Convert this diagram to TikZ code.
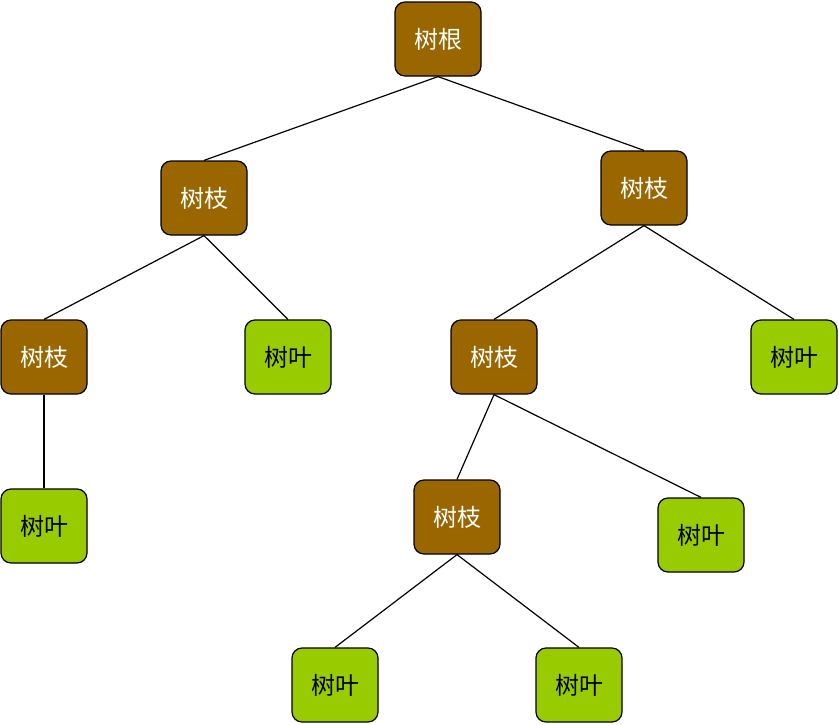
\documentclass[tikz,border=0pt]{standalone}
\usepackage{fontspec}
\newfontfamily\cjk{Noto Sans CJK SC}
\definecolor{branchbrown}{HTML}{996600}
\definecolor{leafgreen}{HTML}{99CC00}
\tikzset{
    treebox/.style={draw=black, line width=1.2pt, rounded corners=10pt,
        minimum width=86pt, minimum height=74pt, inner sep=0pt,
        font=\cjk\fontsize{24}{24}\selectfont},
    branch/.style={treebox, fill=branchbrown, text=white},
    leaf/.style={treebox, fill=leafgreen, text=black},
    edge/.style={line width=1.2pt}
}
\begin{document}
\begin{tikzpicture}[x=1pt,y=-1pt]
        \useasboundingbox (0,0) rectangle (839,724);
        \node[branch] (root) at (438,39) {树根};
        \node[branch] (bl) at (204,198) {树枝};
        \node[branch] (br) at (644,188) {树枝};
        \node[branch] (bll) at (44,357) {树枝};
        \node[leaf] (blr) at (288,357) {树叶};
        \node[branch] (brl) at (494,357) {树枝};
        \node[leaf] (brr) at (794,357) {树叶};
        \node[leaf] (blll) at (44,526) {树叶};
        \node[branch] (brll) at (457,517) {树枝};
        \node[leaf] (brlr) at (701,535) {树叶};
        \node[leaf] (brlll) at (335,685) {树叶};
        \node[leaf] (brllr) at (579,685) {树叶};
        \draw[edge] (root.south) -- (bl.north);
        \draw[edge] (root.south) -- (br.north);
        \draw[edge] (bl.south) -- (bll.north);
        \draw[edge] (bl.south) -- (blr.north);
        \draw[edge] (br.south) -- (brl.north);
        \draw[edge] (br.south) -- (brr.north);
        \draw[edge] (bll.south) -- (blll.north);
        \draw[edge] (brl.south) -- (brll.north);
        \draw[edge] (brl.south) -- (brlr.north);
        \draw[edge] (brll.south) -- (brlll.north);
        \draw[edge] (brll.south) -- (brllr.north);
\end{tikzpicture}
\end{document}
